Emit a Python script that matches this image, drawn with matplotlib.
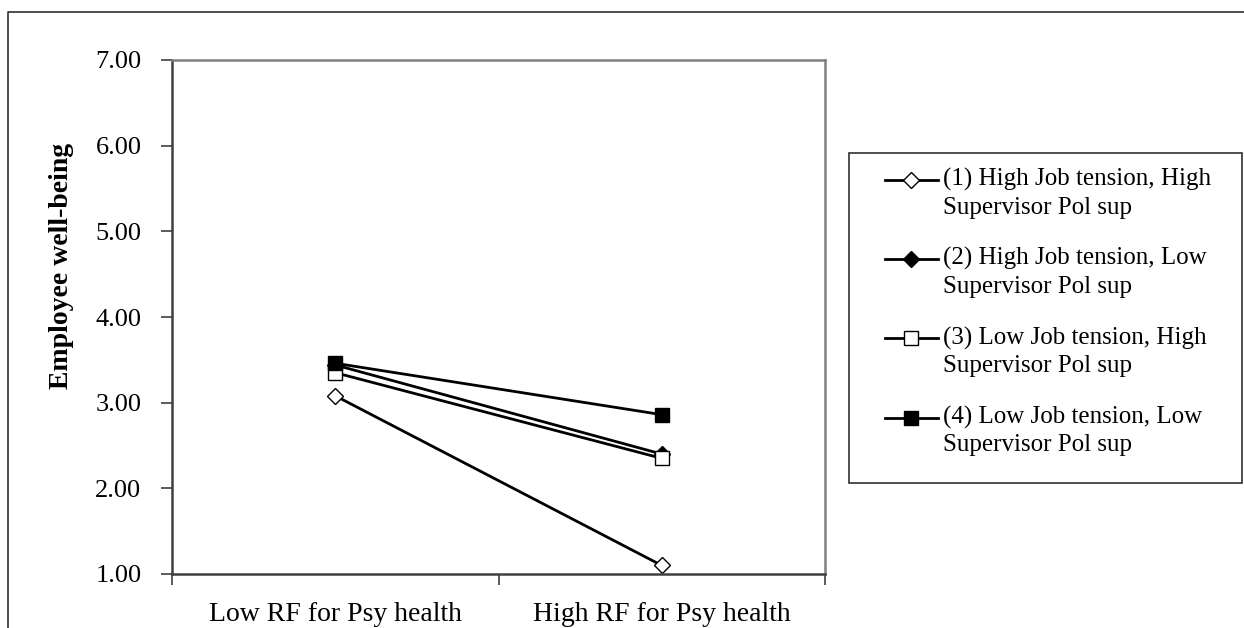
import matplotlib
matplotlib.use("Agg")
import matplotlib.pyplot as plt
from matplotlib.lines import Line2D
from matplotlib.patches import Rectangle
from matplotlib.legend_handler import HandlerLine2D

plt.rcParams['font.family'] = ['Liberation Serif', 'DejaVu Serif']

# data
categories = ["Low RF for Psy health", "High RF for Psy health"]
labels = [
    "(1) High Job tension, High\nSupervisor Pol sup",
    "(2) High Job tension, Low\nSupervisor Pol sup",
    "(3) Low Job tension, High\nSupervisor Pol sup",
    "(4) Low Job tension, Low\nSupervisor Pol sup",
]
s1 = [3.08, 1.10]
s2 = [3.44, 2.40]
s3 = [3.35, 2.35]
s4 = [3.46, 2.86]
y_ticks = [1, 2, 3, 4, 5, 6, 7]

series = [s1, s2, s3, s4]
markers = ["D", "D", "s", "s"]
faces = ["white", "black", "white", "black"]
msizes = [8, 8, 10, 10]


class RaisedLine(HandlerLine2D):
    # put the legend handle level with the first line of a two-line label
    def create_artists(self, legend, orig_handle, xdescent, ydescent,
                       width, height, fontsize, trans):
        return super().create_artists(legend, orig_handle, xdescent,
                                      ydescent - 2 * 9.5, width, height,
                                      fontsize, trans)


W, H = 1244, 628
fig = plt.figure(figsize=(W / 100, H / 100), dpi=100)
ax = fig.add_axes([172 / W, 1 - 574 / H, 653 / W, 514 / H])

x_pos = [0.5, 1.5]
for vals, m, fc, ms, lab in zip(series, markers, faces, msizes, labels):
    ax.plot(x_pos, vals, color="black", lw=2.0, marker=m, markersize=ms,
            markerfacecolor=fc, markeredgecolor="black", markeredgewidth=1.0,
            label=lab)

ax.set_xlim(0, 2)
ax.set_ylim(1, 7)
ax.set_yticks(y_ticks)
ax.set_yticklabels(["%.2f" % v for v in y_ticks], fontsize=19)
ax.set_xticks([0, 1, 2])
ax.set_xticklabels([])
ax.set_xticks(x_pos, minor=True)
ax.set_xticklabels(categories, minor=True, fontsize=20)
ax.tick_params(axis="x", which="minor", length=0, pad=20)
ax.tick_params(axis="x", which="major", direction="out", length=8,
               width=1.2, color="#404040")
ax.tick_params(axis="y", direction="out", length=8, width=1.2,
               color="#404040", pad=14)

for side in ["left", "bottom"]:
    ax.spines[side].set_color("#404040")
    ax.spines[side].set_linewidth(1.8)
for side in ["top", "right"]:
    ax.spines[side].set_color("#808080")
    ax.spines[side].set_linewidth(1.8)

fig.text(62 / W, 1 - 266 / H, "Employee well-being", rotation=90,
         fontsize=20, fontweight="bold", ha="center", va="center")

# legend without its own frame; the box is drawn separately
leg = fig.legend(loc="upper left", bbox_to_anchor=(885 / W, 1 - 168 / H),
                 fontsize=18, frameon=False, handlelength=2.1,
                 handletextpad=0.2, labelspacing=1.15, borderpad=0,
                 borderaxespad=0, handler_map={Line2D: RaisedLine()})
for t in leg.get_texts():
    t.set_linespacing(1.32)
fig.add_artist(Rectangle((849 / W, 1 - 483 / H), (1242 - 849) / W, 330 / H,
                         transform=fig.transFigure, fill=False,
                         edgecolor="#303030", lw=1.2))

# outer frame (only top and left edges visible in the crop)
fig.add_artist(Line2D([8 / W, 8 / W, 1.0], [0.0, 1 - 12 / H, 1 - 12 / H],
                      transform=fig.transFigure, color="#303030", lw=1.2))

fig.savefig("out.png", dpi=100)
